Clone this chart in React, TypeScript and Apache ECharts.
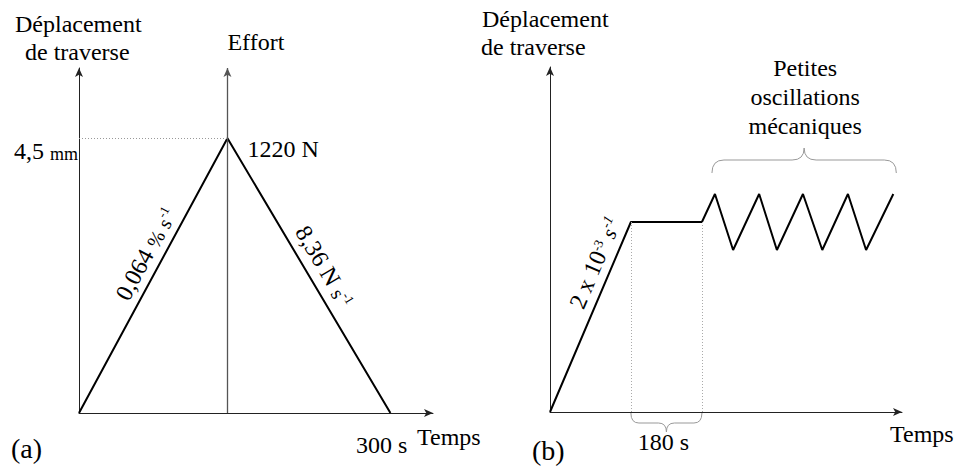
import React, { useEffect, useRef } from "react";
import * as echarts from "echarts";

// Panel (a): crosshead displacement then force unloading
const timeA = [0, 143, 300]; // s
const dispA = [0, 4.5, 0]; // mm (left ramp) / force ramp back to 0
const peakTimeA = 143;
const peakDispA = 4.5;
const xMaxA = 341;
const yMaxA = 5.65;

// Panel (b): ramp, 180 s hold, small mechanical oscillations
const timeB = [0, 205, 385, 418, 464, 530, 575, 641, 690, 755, 801, 870];
const dispB = [0, 1.9, 1.9, 2.18, 1.62, 2.18, 1.62, 2.18, 1.62, 2.18, 1.62, 2.18];
const holdStartB = 205;
const holdEndB = 385;
const holdLevelB = 1.9;
const xMaxB = 892;
const yMaxB = 3.45;

const FAMILY = "Liberation Serif";
const FS = 24;

export default function App() {
  const ref = useRef<HTMLDivElement>(null);

  useEffect(() => {
    const chart = echarts.init(ref.current!, null, { renderer: "svg" });

    const axisLine = (color: string) => ({
      show: true,
      onZero: false,
      symbol: ["none", "arrow"],
      symbolSize: [6, 9],
      lineStyle: { color, width: 1 },
    });
    const bare = {
      axisTick: { show: false },
      axisLabel: { show: false },
      splitLine: { show: false },
    };

    chart.setOption({
      animation: false,
      backgroundColor: "#fff",
      textStyle: { fontFamily: FAMILY },
      grid: [
        { left: 79, top: 68, width: 354, height: 345 },
        { left: 550, top: 67, width: 352, height: 345 },
      ],
      xAxis: [
        { type: "value", gridIndex: 0, min: 0, max: xMaxA, axisLine: axisLine("#222"), ...bare },
        { type: "value", gridIndex: 1, min: 0, max: xMaxB, axisLine: axisLine("#222"), ...bare },
      ],
      yAxis: [
        { type: "value", gridIndex: 0, min: 0, max: yMaxA, axisLine: axisLine("#222"), ...bare },
        { type: "value", gridIndex: 1, min: 0, max: yMaxB, axisLine: axisLine("#222"), ...bare },
      ],
      series: [
        {
          type: "line",
          xAxisIndex: 0,
          yAxisIndex: 0,
          data: timeA.map((t, i) => [t, dispA[i]]),
          symbol: "none",
          silent: true,
          lineStyle: { color: "#000", width: 2 },
          markLine: {
            silent: true,
            animation: false,
            label: { show: false },
            data: [
              [
                { coord: [peakTimeA, 0], symbol: "none", lineStyle: { color: "#555", width: 1.3, type: "solid" } },
                { coord: [peakTimeA, yMaxA], symbol: "arrow", symbolSize: [6, 9] },
              ],
              [
                { coord: [0, peakDispA], symbol: "none", lineStyle: { color: "#999", width: 1, type: [1, 2] } },
                { coord: [peakTimeA, peakDispA], symbol: "none" },
              ],
            ],
          },
        },
        {
          type: "line",
          xAxisIndex: 1,
          yAxisIndex: 1,
          data: timeB.map((t, i) => [t, dispB[i]]),
          symbol: "none",
          silent: true,
          lineStyle: { color: "#000", width: 2 },
          markLine: {
            silent: true,
            animation: false,
            symbol: ["none", "none"],
            label: { show: false },
            lineStyle: { color: "#aaa", width: 1, type: [1, 2] },
            data: [
              [{ coord: [holdStartB, 0] }, { coord: [holdStartB, holdLevelB] }],
              [{ coord: [holdEndB, 0] }, { coord: [holdEndB, holdLevelB] }],
            ],
          },
        },
      ],
    });

    const px = (g: number, pt: number[]) =>
      chart.convertToPixel({ gridIndex: g } as any, pt) as unknown as number[];

    const along = (a: number[], b: number[], fr: number, off: number) => {
      const dx = b[0] - a[0];
      const dy = b[1] - a[1];
      const len = Math.hypot(dx, dy);
      const ux = dx / len;
      const uy = dy / len;
      let nx = uy;
      let ny = -ux;
      if (ny > 0) {
        nx = -nx;
        ny = -ny;
      }
      return {
        x: a[0] + dx * fr + nx * off,
        y: a[1] + dy * fr + ny * off,
        rotation: -Math.atan2(uy, ux),
      };
    };

    const tok = (size: number, lh: number, va = "bottom", italic = false, extra: any = {}) => ({
      fontFamily: FAMILY,
      fontSize: size,
      fontStyle: italic ? "italic" : "normal",
      lineHeight: lh,
      verticalAlign: va,
      fill: "#000",
      ...extra,
    });

    const rich = {
      t: tok(FS, 29, "middle"),
      big: tok(28, 32, "middle"),
      n: tok(FS, 26),
      p: tok(20, 23),
      s: tok(20, 23),
      m: tok(18, 22),
      si: tok(21, 24, "bottom", true),
      u: tok(13, 13, "bottom", false, { padding: [0, 0, 10, 0] }),
      ui: tok(14, 14, "bottom", true, { padding: [0, 0, 10, 0] }),
    };

    const wrap = (s: string, key = "t") =>
      s
        .split("\n")
        .map((l) => `{${key}|${l}}`)
        .join("\n");

    const label = (text: string, x: number, y: number, align = "left", rotation = 0) => ({
      type: "text",
      x,
      y,
      rotation,
      silent: true,
      style: {
        text,
        fill: "#000",
        fontFamily: FAMILY,
        fontSize: FS,
        align,
        verticalAlign: "middle",
        rich,
      },
    });

    const brace = (x1: number, x2: number, yEdge: number, yMid: number, yTip: number, r: number) => {
      const xc = (x1 + x2) / 2;
      const st = { stroke: "#999", lineWidth: 1, fill: "none" };
      const bz = (ax: number, ay: number, bx: number, by: number, cx: number, cy: number) => ({
        type: "bezierCurve",
        silent: true,
        shape: { x1: ax, y1: ay, x2: bx, y2: by, cpx1: cx, cpy1: cy },
        style: st,
      });
      const ln = (ax: number, ay: number, bx: number, by: number) => ({
        type: "line",
        silent: true,
        shape: { x1: ax, y1: ay, x2: bx, y2: by },
        style: st,
      });
      return [
        bz(x1, yEdge, x1 + r, yMid, x1, yMid),
        ln(x1 + r, yMid, xc - r, yMid),
        bz(xc - r, yMid, xc, yTip, xc, yMid),
        bz(xc, yTip, xc + r, yMid, xc, yMid),
        ln(xc + r, yMid, x2 - r, yMid),
        bz(x2 - r, yMid, x2, yEdge, x2, yMid),
      ];
    };

    // panel (a) key points
    const a0 = px(0, [timeA[0], dispA[0]]);
    const a1 = px(0, [timeA[1], dispA[1]]);
    const a2 = px(0, [timeA[2], dispA[2]]);
    const aEnd = px(0, [xMaxA, 0]);
    // panel (b) key points
    const b0 = px(1, [timeB[0], dispB[0]]);
    const b1 = px(1, [timeB[1], dispB[1]]);
    const bHs = px(1, [holdStartB, 0]);
    const bHe = px(1, [holdEndB, 0]);
    const bOscStart = px(1, [timeB[3], dispB[3]]);
    const bOscEnd = px(1, [timeB[timeB.length - 1], dispB[dispB.length - 1]]);
    const bEnd = px(1, [xMaxB, 0]);

    const top = Math.min(...dispB.slice(3).map((v) => px(1, [0, v])[1]));

    const rot = (p: { x: number; y: number; rotation: number }, text: string) =>
      label(text, p.x, p.y, "center", p.rotation);

    chart.setOption({
      graphic: [
        // panel (a) texts
        label(wrap("Déplacement"), 15, 24),
        label(wrap("de traverse"), 25, 52),
        label(wrap("Effort"), a1[0], 42),
        label("{n|4,5} {m|mm}", a0[0] - 1, a1[1] + 12, "right"),
        label(wrap("1220 N"), a1[0] + 20, a1[1] + 11),
        rot(along(a0, a1, 0.55, 18), "{n|0,064} {p|%} {s|s}{u|-1}"),
        rot(along(a1, a2, 0.5, 19), "{n|8,36 N} {s|s}{u|-1}"),
        label(wrap("300 s"), a2[0] + 17, aEnd[1] + 32, "right"),
        label(wrap("Temps"), aEnd[0] - 16, aEnd[1] + 24),
        label(wrap("(a)", "big"), 11, 448),
        // panel (b) texts
        label(wrap("Déplacement"), 482, 19),
        label(wrap("de traverse"), 481, 47),
        rot(along(b0, b1, 0.75, 18), "{n|2 x 10}{u|-3} {si|s}{ui|-1}"),
        label(
          wrap("Petites\noscillations\nmécaniques"),
          (bOscStart[0] + bOscEnd[0]) / 2 + 1,
          97,
          "center"
        ),
        label(wrap("180 s"), (bHs[0] + bHe[0]) / 2 - 3, bHs[1] + 30, "center"),
        label(wrap("Temps"), bEnd[0] - 12, bEnd[1] + 22),
        label(wrap("(b)", "big"), 532, 450),
        // braces
        ...brace(bOscStart[0] - 3, bOscEnd[0] + 3, top - 21, top - 34, top - 46, 12),
        ...brace(bHs[0], bHe[0], bHs[1] + 1, bHs[1] + 11, bHs[1] + 20, 8),
      ],
    });

    return () => chart.dispose();
  }, []);

  return (
    <div
      ref={ref}
      style={{ position: "fixed", left: 0, top: 0, width: 955, height: 466, background: "#fff" }}
    />
  );
}
